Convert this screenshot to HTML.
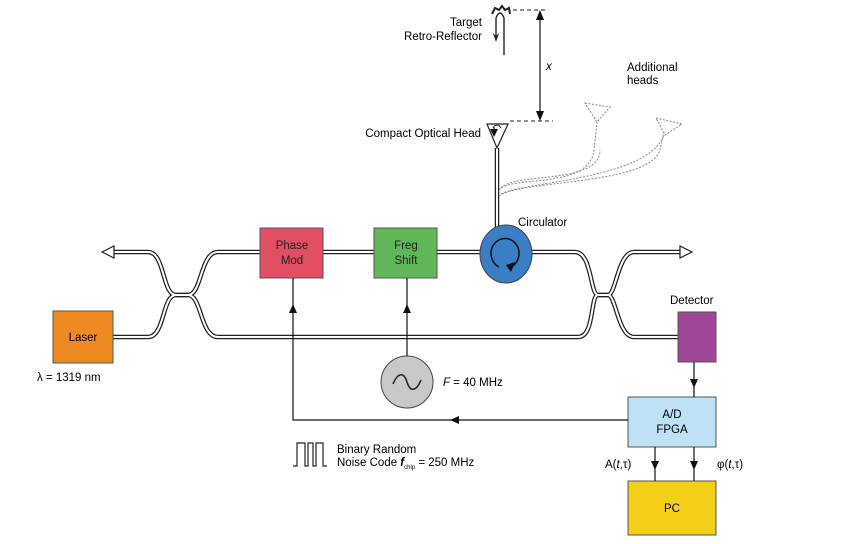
<!DOCTYPE html>
<html><head><style>
body{margin:0;background:#fff;}
svg{display:block;font-family:"Liberation Sans",sans-serif;}
text{font-size:11.5px;}
</style></head><body>
<svg width="843" height="544" viewBox="0 0 843 544">
<defs>
<marker id="ah" markerWidth="8" markerHeight="8" refX="4" refY="4" orient="auto" markerUnits="userSpaceOnUse"><path d="M0,0 L8,4 L0,8 z" fill="#111"/></marker>
</defs>
<g fill="none" stroke="#222" stroke-width="4.5">
<path d="M110,252 H148 C165,252 162,295 176,295 H188 C202,295 200,252 218,252 H260"/>
<path d="M113,337 H148 C165,337 162,295 176,295 H188 C202,295 200,337 218,337 H578 C595,337 590,295 598,295 H608 C616,295 618,337 634,337 H678"/>
<path d="M323,252 H374 M437,252 H480 M532,252 H575 C592,252 590,295 598,295 H608 C616,295 618,252 634,252 H680"/>
<path d="M497,148 V228"/>
</g>
<g fill="none" stroke="#fff" stroke-width="2">
<path d="M110,252 H148 C165,252 162,295 176,295 H188 C202,295 200,252 218,252 H260"/>
<path d="M113,337 H148 C165,337 162,295 176,295 H188 C202,295 200,337 218,337 H578 C595,337 590,295 598,295 H608 C616,295 618,337 634,337 H678"/>
<path d="M323,252 H374 M437,252 H480 M532,252 H575 C592,252 590,295 598,295 H608 C616,295 618,252 634,252 H680"/>
<path d="M497,148 V228"/>
</g>
<path d="M102,252 L114,246 L114,258 z" fill="#fff" stroke="#222" stroke-width="1.2"/>
<path d="M692,252 L680,246 L680,258 z" fill="#fff" stroke="#222" stroke-width="1.2"/>
<!-- dotted additional heads -->
<g fill="none" stroke="#888" stroke-width="1" stroke-dasharray="2,1.5">
<path d="M499,190 C510,175 590,190 594,150 L597,122"/>
<path d="M501,188 C515,172 600,185 600,150"/>
<path d="M499,196 C520,180 650,185 660,150 L664,132"/>
<path d="M501,194 C520,182 648,180 664,135"/>
<path d="M585,103 L610,107 L597,122 z"/>
<path d="M656,118 L682,124 L665,135 z"/>
</g>
<!-- compact head -->
<path d="M487,124 L508,124 L497,148 z" fill="#fff" stroke="#222" stroke-width="1.2"/>
<path d="M493,128 Q497,122 501,128" fill="none" stroke="#222"/>
<path d="M494,127 V133" stroke="#222" marker-end="url(#ah)"/>
<!-- retro reflector -->
<path d="M496,18 Q500,8 504,18 V55" fill="none" stroke="#222" stroke-width="1.4"/>
<path d="M496,18 V38" stroke="#222" stroke-width="1.4"/>
<path d="M496,36 L493,33 L496,42 L499,33 z" fill="#222"/>
<path d="M492,14 L495,8 L499,10 L502,6 L505,10 L509,8 L510,14" fill="none" stroke="#222" stroke-width="2"/>
<g stroke="#222" stroke-dasharray="4,3"><path d="M513,10 H548 M510,121 H553"/></g>
<path d="M540,14 V117" stroke="#111" stroke-width="1.2"/>
<path d="M540,10 L536,20 L544,20 z M540,121 L536,111 L544,111 z" fill="#111"/>
<text x="546" y="70" font-style="italic">x</text>
<text x="482" y="26" text-anchor="end">Target</text>
<text x="482" y="40" text-anchor="end">Retro-Reflector</text>
<text x="627" y="71">Additional</text>
<text x="627" y="84">heads</text>
<text x="481" y="137" text-anchor="end">Compact Optical Head</text>
<!-- boxes -->
<rect x="53" y="311" width="60" height="52" fill="#ef8a22" stroke="#555"/>
<text x="83" y="341" text-anchor="middle">Laser</text>
<text x="37" y="381">λ = 1319 nm</text>
<rect x="260" y="228" width="63" height="50" fill="#e24e63" stroke="#555"/>
<text x="292" y="249" text-anchor="middle" fill="#222">Phase</text>
<text x="292" y="264" text-anchor="middle" fill="#222">Mod</text>
<rect x="374" y="228" width="63" height="50" fill="#5fb75a" stroke="#555"/>
<text x="406" y="249" text-anchor="middle" fill="#222">Freg</text>
<text x="406" y="264" text-anchor="middle" fill="#222">Shift</text>
<ellipse cx="506" cy="254" rx="26" ry="29" fill="#3a7fc6" stroke="#444"/>
<path d="M511,267 A14,15 0 1,0 499,267" fill="none" stroke="#111" stroke-width="1.5"/>
<path d="M515,262 L511,272 L506,265 z" fill="#111"/>
<text x="518" y="226">Circulator</text>
<text x="670" y="304">Detector</text>
<rect x="678" y="312" width="38" height="50" fill="#9f4797" stroke="#555"/>
<circle cx="407" cy="382" r="26" fill="#c8c8c8" stroke="#444"/>
<path d="M393,384 C398,372 404,372 407,382 C410,392 416,392 421,380" fill="none" stroke="#222" stroke-width="1.5"/>
<text x="443" y="386"><tspan font-style="italic">F</tspan> = 40 MHz</text>
<rect x="628" y="397" width="88" height="50" fill="#bde2f6" stroke="#555"/>
<text x="672" y="418" text-anchor="middle">A/D</text>
<text x="672" y="433" text-anchor="middle">FPGA</text>
<rect x="628" y="481" width="88" height="54" fill="#f2d017" stroke="#555"/>
<text x="672" y="512" text-anchor="middle">PC</text>
<!-- control lines -->
<g stroke="#111" stroke-width="1.2" fill="none">
<path d="M628,420 H293 V278"/>
<path d="M407,356 V278"/>
<path d="M694,362 V397"/>
<path d="M655,447 V481 M694,447 V481"/>
</g>
<g fill="#111">
<path d="M293,304 L289,313 L297,313 z"/>
<path d="M407,304 L403,313 L411,313 z"/>
<path d="M450,420 L459,416 L459,424 z"/>
<path d="M694,388 L690,379 L698,379 z"/>
<path d="M655,470 L651,461 L659,461 z"/>
<path d="M694,470 L690,461 L698,461 z"/>
</g>
<text x="605" y="468">A(<tspan font-style="italic">t</tspan>,τ)</text>
<text x="717" y="468">φ(<tspan font-style="italic">t</tspan>,τ)</text>
<path d="M293,466 H297 V443 H305 V466 H308 V443 H313 V466 H316 V443 H323 V466 H327" fill="none" stroke="#222" stroke-width="1.2"/>
<text x="337" y="453">Binary Random</text>
<text x="337" y="466">Noise Code <tspan font-style="italic" font-weight="bold">f</tspan><tspan font-size="6" dy="3">chip</tspan><tspan dy="-3"> = 250 MHz</tspan></text>
</svg>
</body></html>
